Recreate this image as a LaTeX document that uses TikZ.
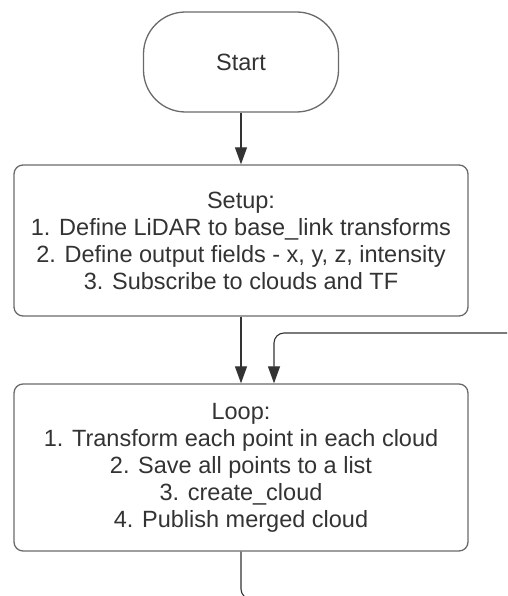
\documentclass[tikz,border=0pt]{standalone}
\usepackage{fontspec}
\setmainfont{Liberation Sans}
\definecolor{flowline}{HTML}{333333}
\definecolor{flowframe}{HTML}{6A6A6A}
\definecolor{flowtext}{HTML}{333333}
\usetikzlibrary{arrows.meta, positioning}

\begin{document}
\begin{tikzpicture}[x=1pt, y=1pt, every node/.style={font=\fontsize{23.5}{27}\selectfont, text=flowtext}]
        \tikzset{
          terminal/.style={draw=flowframe, line width=1.3pt, fill=white,
                 minimum width=195pt, minimum height=100pt,
                 rounded corners=42pt},
          stepbox/.style={draw=flowframe, line width=1.3pt, fill=white,
                 minimum width=454pt, align=center,
                 rounded corners=9pt},
          flow/.style={-{Triangle[length=17pt, width=12pt]}, line width=1.1pt, flowline}
        }
        \clip (0,0) rectangle (507,596);
        \fill[white] (0,0) rectangle (507,596);
        \node[terminal] (start) at (241, 534) {Start};
        \node[stepbox, minimum height=151pt] (setup) at (241, 355.5)
          {Setup:\\1. Define LiDAR to base\_link transforms\\2. Define output fields - x, y, z, intensity\\3. Subscribe to clouds and TF};
        \node[stepbox, minimum height=167pt] (loop) at (241, 128.5)
          {Loop:\\1. Transform each point in each cloud\\2. Save all points to a list\\3. create\_cloud\\4. Publish merged cloud};
        \coordinate (back in) at (510, 263);
        \coordinate (back out) at (300, -3);
        \draw[flow] (start) -- (setup);
        \draw[flow] (setup) -- (loop);
        \draw[flow, rounded corners=10pt] (back in) -| (loop.north -| 274, 0);
        \draw[line width=1.1pt, flowline, rounded corners=10pt] (loop.south) |- (back out);
      \end{tikzpicture}
\end{document}
